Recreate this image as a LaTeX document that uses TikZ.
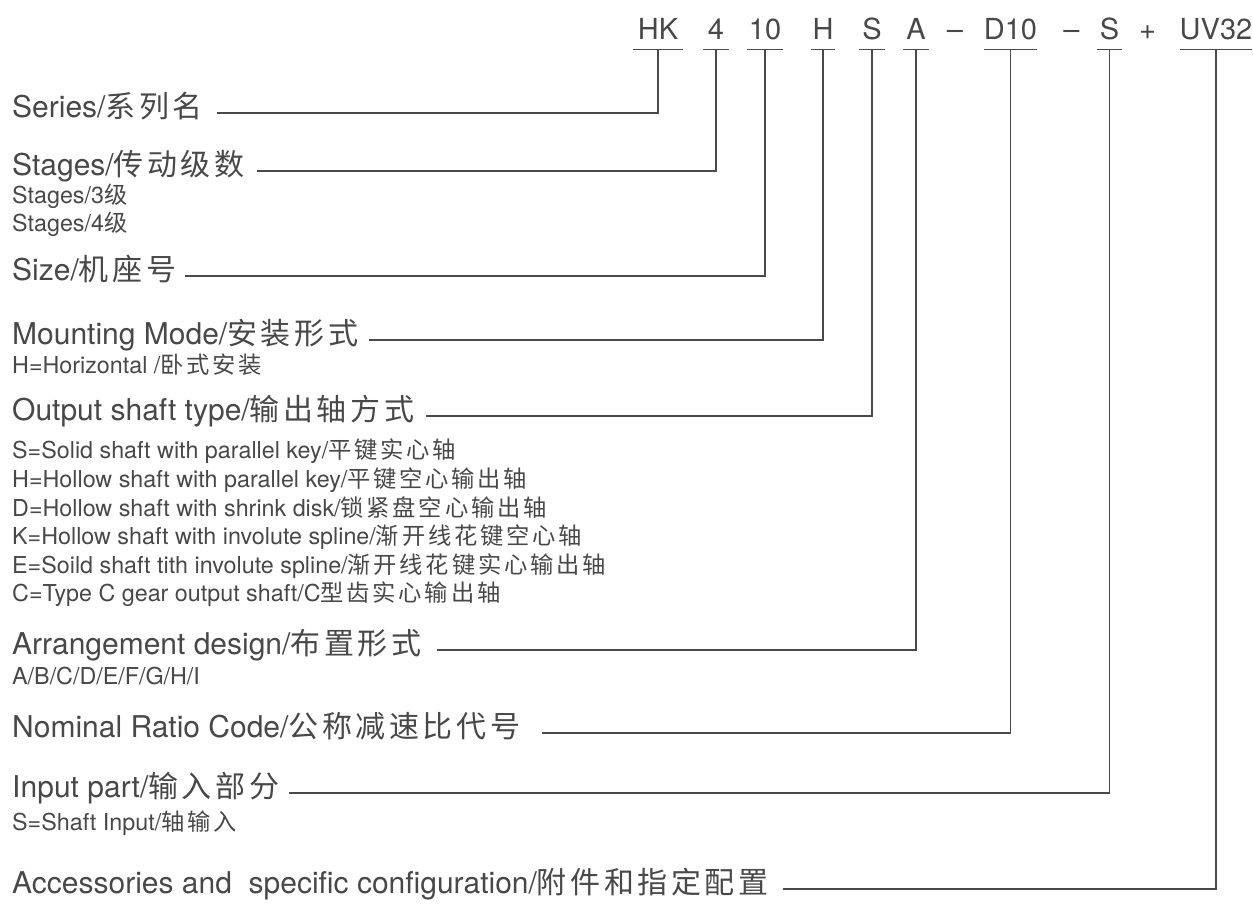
\documentclass[tikz,border=0pt]{standalone}
\usepackage{fontspec}
\setmainfont{TeX Gyre Heros}
\newfontfamily\cjk[LetterSpace=12]{Noto Sans CJK SC}
\usetikzlibrary{positioning}
\definecolor{txtgray}{HTML}{484848}
\definecolor{linegray}{HTML}{4A4A4A}
\newcommand{\zh}[1]{{\cjk #1}}

\begin{document}
\begin{tikzpicture}[x=1pt, y=-1pt,
  lbl/.style={anchor=base west, inner sep=0pt, text=txtgray, font=\fontsize{30}{34}\selectfont},
  sublbl/.style={anchor=base west, inner sep=0pt, text=txtgray, font=\fontsize{23.3}{27}\selectfont},
  codebox/.style={anchor=base, inner xsep=0pt, inner ysep=10pt, text=txtgray, font=\fontsize{29}{32}\selectfont},
  lead/.style={draw=linegray, line width=1.3pt}]
  \useasboundingbox (0,0) rectangle (1253,903);

  % type code
  \node[codebox, minimum width=50pt] (hk) at (658,39) {HK};
  \node[codebox, minimum width=25pt] (stg) at (716,39) {4};
  \node[codebox, minimum width=36pt] (siz) at (765,39) {10};
  \node[codebox, minimum width=24pt] (mnt) at (823,39) {H};
  \node[codebox, minimum width=26pt] (out) at (872,39) {S};
  \node[codebox, minimum width=25pt] (arr) at (916,39) {A};
  \node[codebox] (d1) at (955,39) {--};
  \node[codebox, minimum width=47pt] (rat) at (1010.5,39) {D10};
  \node[codebox] (d2) at (1071.5,39) {--};
  \node[codebox, minimum width=25pt] (inp) at (1109.5,39) {S};
  \node[codebox] (pl) at (1147.5,39) {+};
  \node[codebox, minimum width=71pt] (acc) at (1216,39) {UV32};
  \foreach \c in {hk,stg,siz,mnt,out,arr,rat,inp,acc}
    \draw[lead] (\c.south west) -- (\c.south east);

  % labels
  \node[lbl] (series) at (12,117) {Series/\zh{系列名}};
  \node[lbl] (stages) at (12,175) {Stages/\zh{传动级数}};
  \node[sublbl] (stages3) at (12,203) {Stages/3\zh{级}};
  \node[sublbl] (stages4) at (12,231) {Stages/4\zh{级}};
  \node[lbl] (size) at (12,280) {Size/\zh{机座号}};
  \node[lbl] (mount) at (12,344) {Mounting Mode/\zh{安装形式}};
  \node[sublbl] (mounth) at (12,373) {H=Horizontal /\zh{卧式安装}};
  \node[lbl] (output) at (12,420) {Output shaft type/\zh{输出轴方式}};
  \node[sublbl] (outs) at (12,458) {S=Solid shaft with parallel key/\zh{平键实心轴}};
  \node[sublbl] (outh) at (12,487) {H=Hollow shaft with parallel key/\zh{平键空心输出轴}};
  \node[sublbl] (outd) at (12,516) {D=Hollow shaft with shrink disk/\zh{锁紧盘空心输出轴}};
  \node[sublbl] (outk) at (12,544) {K=Hollow shaft with involute spline/\zh{渐开线花键空心轴}};
  \node[sublbl] (oute) at (12,573) {E=Soild shaft tith involute spline/\zh{渐开线花键实心输出轴}};
  \node[sublbl] (outc) at (12,601) {C=Type C gear output shaft/C\zh{型齿实心输出轴}};
  \node[lbl] (arrange) at (12,654) {Arrangement design/\zh{布置形式}};
  \node[sublbl] (arrlist) at (12,684) {A/B/C/D/E/F/G/H/I};
  \node[lbl] (ratio) at (12,737) {Nominal Ratio Code/\zh{公称减速比代号}};
  \node[lbl] (input) at (12,797) {Input part/\zh{输入部分}};
  \node[sublbl] (inputs) at (12,830) {S=Shaft Input/\zh{轴输入}};
  \node[lbl] (access) at (12,893) {Accessories and\ \ specific configuration/\zh{附件和指定配置}};

  % leader lines
  \draw[lead] ([xshift=14pt,yshift=4pt]series.base east) -| (hk.south);
  \draw[lead] ([xshift=12pt,yshift=4pt]stages.base east) -| (stg.south);
  \draw[lead] ([xshift=9pt,yshift=4pt]size.base east) -| (siz.south);
  \draw[lead] ([xshift=11pt,yshift=4pt]mount.base east) -| (mnt.south);
  \draw[lead] ([xshift=12pt,yshift=4pt]output.base east) -| (out.south);
  \draw[lead] ([xshift=15pt,yshift=4pt]arrange.base east) -| (arr.south);
  \draw[lead] ([xshift=22pt,yshift=4pt]ratio.base east) -| (rat.south);
  \draw[lead] ([xshift=10pt,yshift=4pt]input.base east) -| (inp.south);
  \draw[lead] ([xshift=14pt,yshift=4pt]access.base east) -| (acc.south);
\end{tikzpicture}
\end{document}
